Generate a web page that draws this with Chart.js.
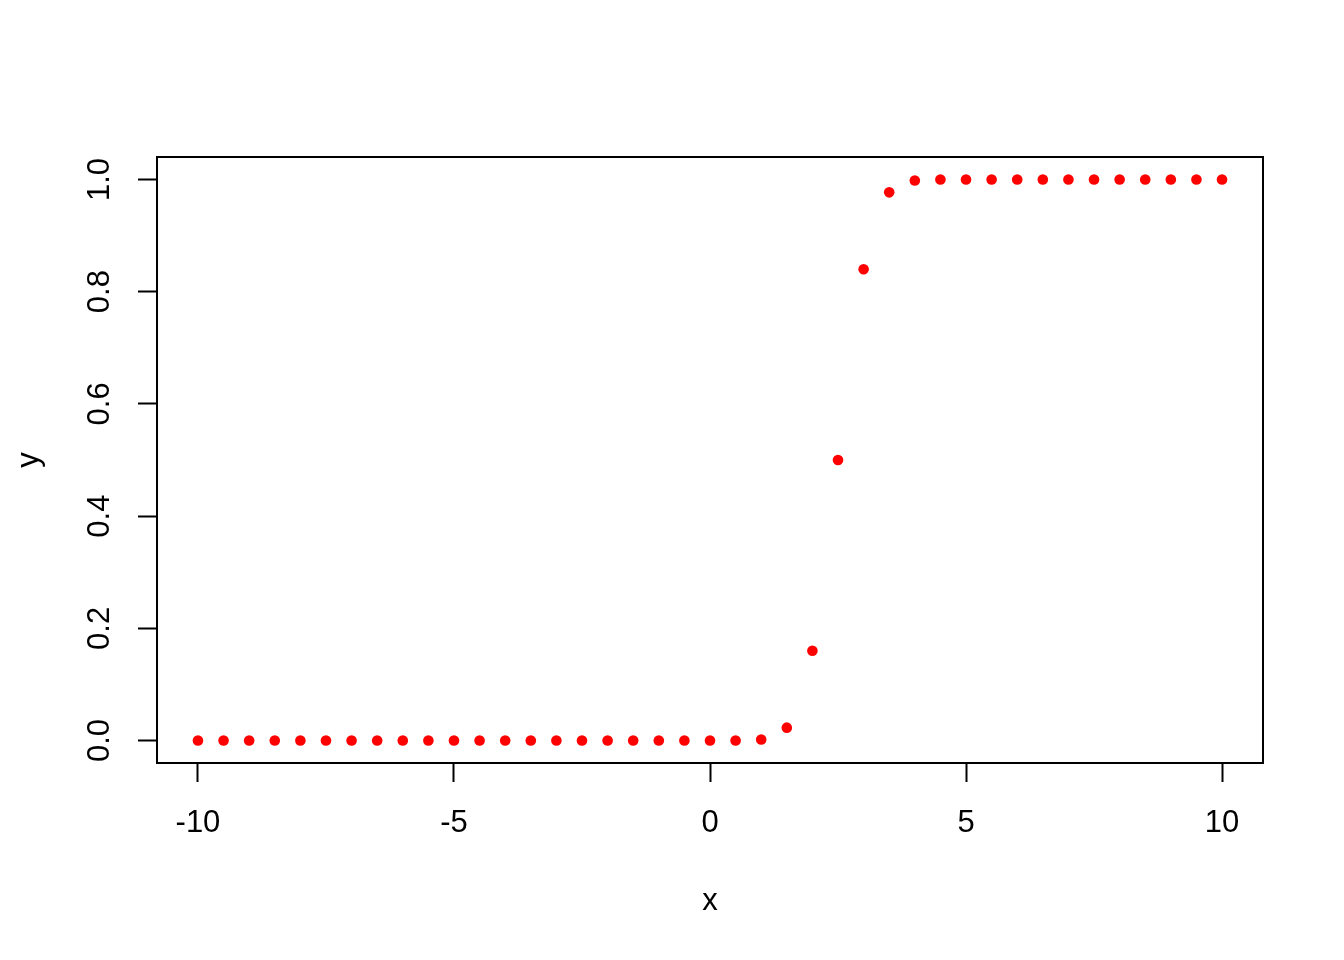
<!DOCTYPE html>
<html>
<head>
<meta charset="utf-8">
<script src="https://cdn.jsdelivr.net/npm/chart.js@4"></script>
<style>
  html, body { margin: 0; padding: 0; background: #ffffff; }
</style>
</head>
<body>
<canvas id="grafico" width="1344" height="960"></canvas>
<script>
// data
var xValues = [-10, -9.5, -9, -8.5, -8, -7.5, -7, -6.5, -6, -5.5, -5, -4.5, -4, -3.5, -3, -2.5, -2, -1.5, -1, -0.5,
               0, 0.5, 1, 1.5, 2, 2.5, 3, 3.5, 4, 4.5, 5, 5.5, 6, 6.5, 7, 7.5, 8, 8.5, 9, 9.5, 10];
var yValues = [0, 0, 0, 0, 0, 0, 0, 0, 0, 0, 0, 0, 0, 0, 0, 0, 0, 0, 0, 0,
               0, 0, 0.002, 0.023, 0.16, 0.5, 0.84, 0.977, 0.998, 1, 1, 1, 1, 1, 1, 1, 1, 1, 1, 1, 1];
var xTicks = [-10, -5, 0, 5, 10];
var yTicks = [0, 0.2, 0.4, 0.6, 0.8, 1.0];

var fonte = 'Liberation Sans, Arial, sans-serif';

var pontos = xValues.map(function (x, i) { return { x: x, y: yValues[i] }; });

// frame around the plot region, like R's box()
var caixa = {
    id: 'caixa',
    afterDraw: function (chart) {
        var a = chart.chartArea;
        var ctx = chart.ctx;
        ctx.save();
        ctx.strokeStyle = '#000000';
        ctx.lineWidth = 2;
        ctx.strokeRect(a.left, a.top, a.right - a.left, a.bottom - a.top);
        ctx.restore();
    }
};

var grafico = new Chart(document.getElementById('grafico').getContext('2d'), {
    type: 'scatter',
    data: {
        datasets: [{
            data: pontos,
            pointRadius: 5.3,
            pointBorderWidth: 0,
            pointBackgroundColor: '#ff0000',
            pointBorderColor: '#ff0000'
        }]
    },
    options: {
        responsive: false,
        animation: false,
        devicePixelRatio: 1,
        layout: {
            padding: { top: 157, right: 81, left: 0, bottom: 0 }
        },
        plugins: {
            legend: { display: false },
            tooltip: { enabled: false }
        },
        scales: {
            x: {
                type: 'linear',
                min: -10.8,
                max: 10.8,
                afterBuildTicks: function (scale) {
                    scale.ticks = xTicks.map(function (v) { return { value: v }; });
                },
                afterFit: function (scale) { scale.height = 197; },
                border: { display: false },
                grid: {
                    drawOnChartArea: false,
                    drawTicks: true,
                    tickLength: 19,
                    tickColor: '#000000',
                    tickWidth: 2
                },
                ticks: {
                    color: '#000000',
                    padding: 23,
                    maxRotation: 0,
                    autoSkip: false,
                    font: { family: fonte, size: 31 },
                    callback: function (v) { return String(v); }
                },
                title: {
                    display: true,
                    text: 'x',
                    color: '#000000',
                    font: { family: fonte, size: 31 },
                    padding: { top: 0, bottom: 40 }
                }
            },
            y: {
                type: 'linear',
                min: -0.04,
                max: 1.04,
                afterBuildTicks: function (scale) {
                    scale.ticks = yTicks.map(function (v) { return { value: v }; });
                },
                afterFit: function (scale) { scale.width = 157; },
                border: { display: false },
                grid: {
                    drawOnChartArea: false,
                    drawTicks: true,
                    tickLength: 19,
                    tickColor: '#000000',
                    tickWidth: 2
                },
                ticks: {
                    color: '#000000',
                    padding: 16,
                    minRotation: 90,
                    maxRotation: 90,
                    crossAlign: 'center',
                    autoSkip: false,
                    font: { family: fonte, size: 31 },
                    callback: function (v) { return Number(v).toFixed(1); }
                },
                title: {
                    display: true,
                    text: 'y',
                    color: '#000000',
                    font: { family: fonte, size: 31 },
                    padding: { top: 11, bottom: 0 }
                }
            }
        }
    },
    plugins: [caixa]
});
</script>
</body>
</html>
